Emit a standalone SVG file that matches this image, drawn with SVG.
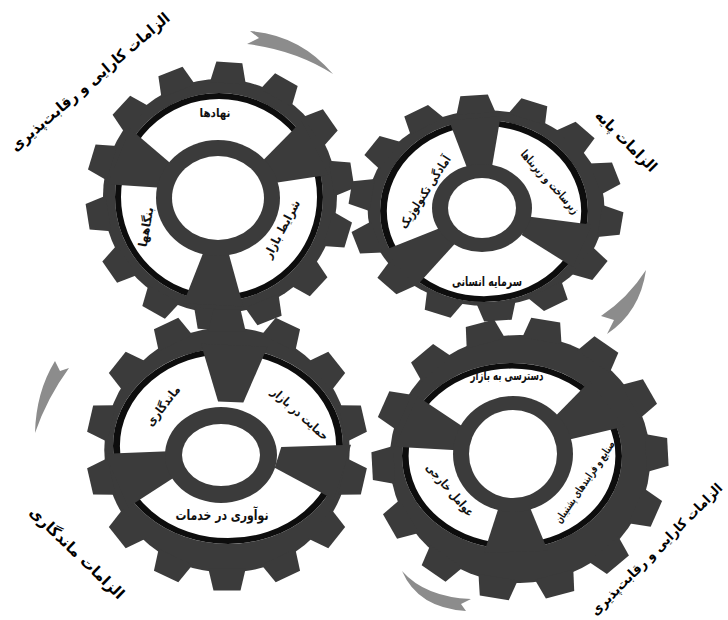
<svg xmlns="http://www.w3.org/2000/svg" width="728" height="620" viewBox="0 0 728 620">
<style>
.body{fill:#3b3b3b}
.win{fill:#ffffff}
.edge{fill:none;stroke:#0d0d0d;stroke-width:6}
.hole{fill:#ffffff}
.lbl{font-family:"DejaVu Sans",sans-serif;font-weight:bold;font-size:12px;fill:#111;text-anchor:middle;dominant-baseline:central}
.big{font-size:15px;fill:#000}
.arrow{fill:#8c8c8c}
</style>
<defs>
<polygon id="t1" class="body" points="-18,-113 -13,-134 13,-134 18,-113"/>
<polygon id="t2" class="body" points="-17,-100 -12,-119 12,-119 17,-100"/>
<polygon id="t3" class="body" points="-18,-114 -13,-135 13,-135 18,-114"/>
<polygon id="t4" class="body" points="-19,-120 -14,-141 14,-141 19,-120"/>
<polygon id="s1" class="body" points="54,-12 108,-30 108,30 54,12"/>
<polygon id="s2" class="body" points="40,-10 94,-23 94,23 40,10"/>
<polygon id="s3" class="body" points="45,-11 103,-29 103,29 45,11"/>
</defs>
<rect width="728" height="620" fill="#ffffff"/>

<g id="connectors">
<path class="arrow" d="M250,31 Q300,35 333,74 Q295,50 247,44 L259,38 Z"/>
<path class="arrow" d="M646,270 Q628,298 601,316 L614,320 L607,334 Q640,312 646,270 Z"/>
<path class="arrow" d="M35,433 Q36,392 55,361 L60,371 L69,368 Q47,398 35,433 Z"/>
<path class="arrow" d="M402,571 Q425,597 471,599 L461,604 L466,611 Q418,608 402,571 Z"/>
</g>

<g id="gear1">
<g transform="translate(220,196)">
<circle class="body" r="117"/>
<use href="#t1" transform="rotate(4)"/><use href="#t1" transform="rotate(29.7)"/><use href="#t1" transform="rotate(55.4)"/><use href="#t1" transform="rotate(81.1)"/><use href="#t1" transform="rotate(106.9)"/><use href="#t1" transform="rotate(132.6)"/><use href="#t1" transform="rotate(158.3)"/><use href="#t1" transform="rotate(184)"/><use href="#t1" transform="rotate(209.7)"/><use href="#t1" transform="rotate(235.4)"/><use href="#t1" transform="rotate(261.1)"/><use href="#t1" transform="rotate(286.9)"/><use href="#t1" transform="rotate(312.6)"/><use href="#t1" transform="rotate(338.3)"/>
</g>
<g transform="translate(219,197)">
<circle class="win" r="104"/>
<circle class="edge" r="101"/>
<use href="#s1" transform="rotate(-158)"/><use href="#s1" transform="rotate(-27)"/><use href="#s1" transform="rotate(93)"/>
</g>
<ellipse class="body" cx="218" cy="198" rx="62" ry="58"/>
<ellipse class="hole" cx="218" cy="198" rx="46" ry="42"/>
<text class="lbl" x="215" y="113" textLength="31" lengthAdjust="spacingAndGlyphs">نهادها</text>
<text class="lbl" x="146" y="227" transform="rotate(-80 146 227)" textLength="40" lengthAdjust="spacingAndGlyphs">بنگاهها</text>
<text class="lbl" x="282" y="229" transform="rotate(-62 282 229)" textLength="64" lengthAdjust="spacingAndGlyphs">شرایط بازار</text>
</g>

<g id="gear2">
<g transform="translate(486,208) scale(1.15,0.95)">
<circle class="body" r="103"/>
<use href="#t2" transform="rotate(-5)"/><use href="#t2" transform="rotate(20.7)"/><use href="#t2" transform="rotate(46.4)"/><use href="#t2" transform="rotate(72.1)"/><use href="#t2" transform="rotate(97.9)"/><use href="#t2" transform="rotate(123.6)"/><use href="#t2" transform="rotate(149.3)"/><use href="#t2" transform="rotate(175)"/><use href="#t2" transform="rotate(200.7)"/><use href="#t2" transform="rotate(226.4)"/><use href="#t2" transform="rotate(252.1)"/><use href="#t2" transform="rotate(277.9)"/><use href="#t2" transform="rotate(303.6)"/><use href="#t2" transform="rotate(329.3)"/>
</g>
<g transform="translate(484,211) scale(1.13,0.99)">
<circle class="win" r="92"/>
<circle class="edge" r="89"/>
<use href="#s2" transform="rotate(-95)"/><use href="#s2" transform="rotate(22)"/><use href="#s2" transform="rotate(142)"/>
</g>
<ellipse class="body" cx="482" cy="208" rx="50" ry="44"/>
<ellipse class="hole" cx="482" cy="208" rx="34" ry="30"/>
<text class="lbl" x="425" y="192" transform="rotate(-57 425 192)" textLength="84" lengthAdjust="spacingAndGlyphs">آمادگی تکنولوژیک</text>
<text class="lbl" x="550" y="182" transform="rotate(48 550 182)" textLength="81" lengthAdjust="spacingAndGlyphs">زیرساخت و زیربناها</text>
<text class="lbl" x="487" y="281" style="font-size:13px" textLength="70" lengthAdjust="spacingAndGlyphs">سرمایه انسانی</text>
</g>

<g id="gear3">
<g transform="translate(227,450) scale(1.04,1.04)">
<circle class="body" r="118"/>
<use href="#t3" transform="rotate(0)"/><use href="#t3" transform="rotate(25.7)"/><use href="#t3" transform="rotate(51.4)"/><use href="#t3" transform="rotate(77.1)"/><use href="#t3" transform="rotate(102.9)"/><use href="#t3" transform="rotate(128.6)"/><use href="#t3" transform="rotate(154.3)"/><use href="#t3" transform="rotate(180)"/><use href="#t3" transform="rotate(205.7)"/><use href="#t3" transform="rotate(231.4)"/><use href="#t3" transform="rotate(257.1)"/><use href="#t3" transform="rotate(282.9)"/><use href="#t3" transform="rotate(308.6)"/><use href="#t3" transform="rotate(334.3)"/>
</g>
<g transform="translate(228,446) scale(1.15,0.98)">
<circle class="win" r="100"/>
<circle class="edge" r="97"/>
<use href="#s3" transform="rotate(-87)"/><use href="#s3" transform="rotate(15)"/><use href="#s3" transform="rotate(160)"/>
</g>
<ellipse class="body" cx="221" cy="455" rx="56" ry="48"/>
<ellipse class="hole" cx="221" cy="455" rx="39" ry="31"/>
<text class="lbl" x="163" y="406" transform="rotate(-52 163 406)" textLength="48" lengthAdjust="spacingAndGlyphs">ماندگاری</text>
<text class="lbl" x="300" y="414" transform="rotate(42 300 414)" textLength="72" lengthAdjust="spacingAndGlyphs">حمایت در بازار</text>
<text class="lbl" x="222" y="515" style="font-size:14px" textLength="93" lengthAdjust="spacingAndGlyphs">نوآوری در خدمات</text>
</g>

<g id="gear4">
<g transform="translate(520,459) scale(1.05,1)">
<circle class="body" r="124"/>
<use href="#t4" transform="rotate(10)"/><use href="#t4" transform="rotate(35.7)"/><use href="#t4" transform="rotate(61.4)"/><use href="#t4" transform="rotate(87.1)"/><use href="#t4" transform="rotate(112.9)"/><use href="#t4" transform="rotate(138.6)"/><use href="#t4" transform="rotate(164.3)"/><use href="#t4" transform="rotate(190)"/><use href="#t4" transform="rotate(215.7)"/><use href="#t4" transform="rotate(241.4)"/><use href="#t4" transform="rotate(267.1)"/><use href="#t4" transform="rotate(292.9)"/><use href="#t4" transform="rotate(318.6)"/><use href="#t4" transform="rotate(344.3)"/>
</g>
<g transform="translate(512,456) scale(1.1,0.93)">
<circle class="win" r="100"/>
<circle class="edge" r="97"/>
<use href="#s3" transform="rotate(-159)"/><use href="#s3" transform="rotate(-33)"/><use href="#s3" transform="rotate(88)"/>
</g>
<ellipse class="body" cx="513" cy="454" rx="60" ry="58"/>
<circle class="hole" cx="513" cy="454" r="44"/>
<text class="lbl" x="507" y="375" style="font-size:13px" textLength="73" lengthAdjust="spacingAndGlyphs">دسترسی به بازار</text>
<text class="lbl" x="450" y="490" transform="rotate(49 450 490)" textLength="66" lengthAdjust="spacingAndGlyphs">عوامل خارجی</text>
<text class="lbl" x="585" y="482" transform="rotate(-55.5 585 482)" style="font-size:11px" textLength="97" lengthAdjust="spacingAndGlyphs">صنایع و فرایندهای پشتیبان</text>
</g>

<g id="labels">
<text class="lbl big" x="90" y="82" transform="rotate(-40.5 90 82)" textLength="204" lengthAdjust="spacingAndGlyphs">الزامات کارایی و رقابت‌پذیری</text>
<text class="lbl big" x="626" y="141" transform="rotate(45 626 141)" textLength="80" lengthAdjust="spacingAndGlyphs">الزامات پایه</text>
<text class="lbl big" x="77" y="553" transform="rotate(44 77 553)" textLength="125" lengthAdjust="spacingAndGlyphs">الزامات ماندگاری</text>
<text class="lbl big" x="656" y="549" transform="rotate(-45 656 549)" style="font-size:13.5px" textLength="180" lengthAdjust="spacingAndGlyphs">الزامات کارایی و رقابت‌پذیری</text>
</g>
</svg>
